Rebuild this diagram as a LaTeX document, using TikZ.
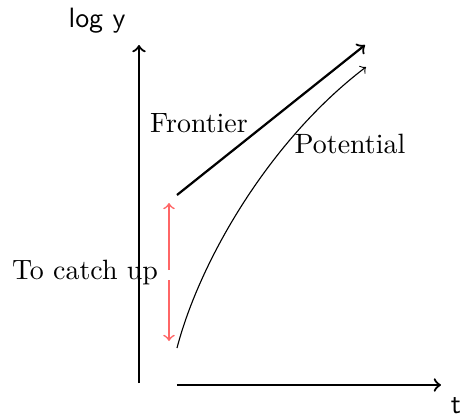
\documentclass[tikz,border=0pt]{standalone}
\usetikzlibrary{arrows}
\begin{document}
\begin{tikzpicture}[x=0.358pt,y=-0.358pt,
  axis/.style={thick,->},
  frontierline/.style={thick,->},
  potentialline/.style={thin,->},
  gapline/.style={semithick,red!60,->},
  lbl/.style={anchor=base,inner sep=0pt}]
\useasboundingbox (0,0) rectangle (463,415);
\coordinate (yb) at (139,383); \coordinate (yt) at (139,45);
\coordinate (xl) at (177,385); \coordinate (xr) at (441,385);
\coordinate (fs) at (177,195); \coordinate (fe) at (365,45);
\coordinate (ps) at (177,348); \coordinate (pe) at (366,67);
\coordinate (rgt) at (169,270); \coordinate (rt) at (169,203);
\coordinate (rgb) at (169,280); \coordinate (rb) at (169,341);
\draw[axis] (yb) -- (yt);
\draw[axis] (xl) -- (xr);
\draw[frontierline] (fs) -- (fe);
\draw[potentialline] (ps) .. controls (200,260) and (270,140) .. (pe);
\draw[gapline] (rgt) -- (rt);
\draw[gapline] (rgb) -- (rb);
\node[lbl] (ly) at (97,27) {\textsf{log y}};
\node[lbl] (lt) at (456,413) {\textsf{t}};
\node[lbl] (lf) at (199,132) {Frontier};
\node[lbl] (lp) at (350,153) {Potential};
\node[lbl] (lc) at (85,279) {To catch up};
\end{tikzpicture}
\end{document}
